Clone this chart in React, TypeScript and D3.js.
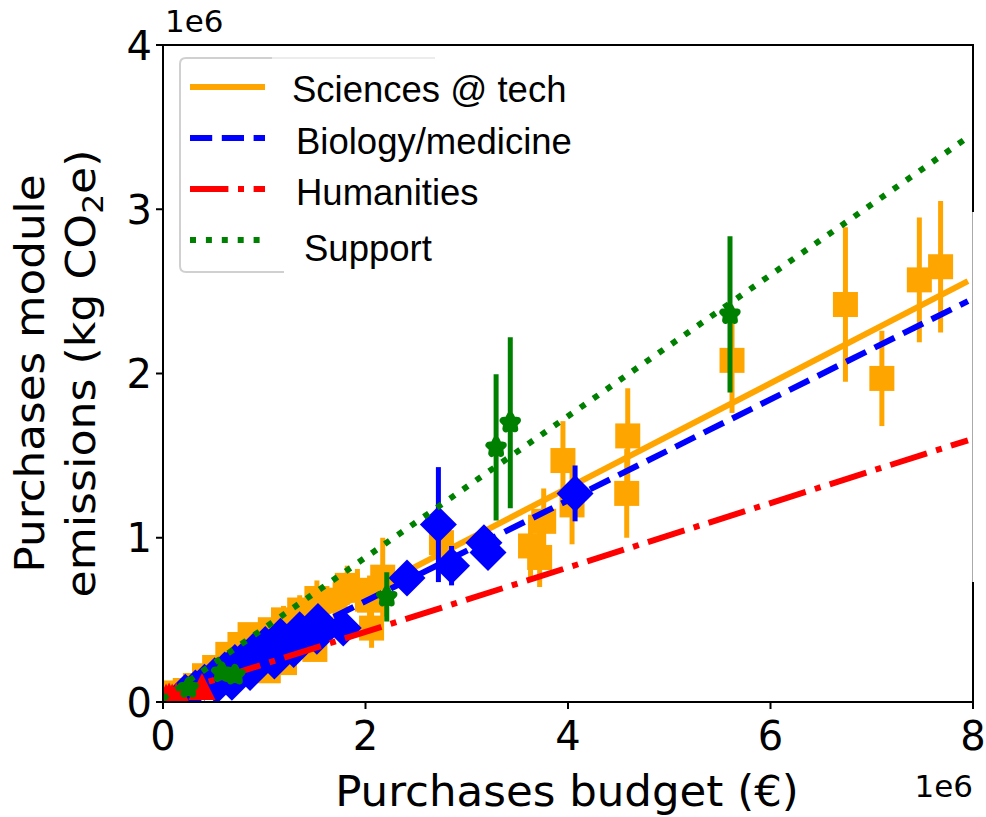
import React from 'react';
import * as d3 from 'd3';

// Values in units of 1e6
const categories = ['Sciences @ tech', 'Biology/medicine', 'Humanities', 'Support'];
const colors = ['orange', 'blue', 'red', 'green'];

const sciX = [5.62, 6.74, 7.10, 7.47, 7.68, 4.59, 4.58, 3.95, 4.04, 3.76, 3.63, 3.72, 2.75, 2.17, 2.06, 2.04, 1.92, 1.82, 1.70, 1.52, 1.50, 1.35, 1.20, 1.19, 1.04, 1.06, 0.86, 0.76, 0.64, 0.51, 0.41, 0.32, 0.22, 0.12, 0.05];
const sciY = [2.08, 2.42, 1.97, 2.57, 2.65, 1.62, 1.27, 1.47, 1.20, 1.10, 0.95, 0.88, 0.97, 0.76, 0.45, 0.62, 0.68, 0.71, 0.62, 0.63, 0.32, 0.56, 0.24, 0.50, 0.19, 0.44, 0.41, 0.35, 0.29, 0.21, 0.16, 0.10, 0.07, 0.055, 0.035];
const sciErr = [0.32, 0.47, 0.29, 0.38, 0.40, 0.29, 0.27, 0.24, 0.24, 0.20, 0.19, 0.18, 0.18, 0.24, 0.12, 0.15, 0.13, 0.12, 0.11, 0.11, 0.07, 0.09, 0.06, 0.085, 0.05, 0.07, 0.07, 0.06, 0.05, 0.04, 0.03, 0.025, 0.02, 0.015, 0.01];

const bioX = [2.72, 2.85, 3.17, 3.21, 4.07, 2.41, 1.78, 1.53, 1.52, 1.35, 1.29, 1.16, 1.10, 1.01, 0.91, 0.86, 0.81, 0.71, 0.68, 0.61, 0.53, 0.51, 0.41, 0.32, 0.22];
const bioY = [1.08, 0.83, 0.97, 0.91, 1.27, 0.755, 0.45, 0.49, 0.40, 0.44, 0.32, 0.40, 0.25, 0.35, 0.32, 0.18, 0.27, 0.24, 0.12, 0.195, 0.10, 0.16, 0.12, 0.085, 0.06];
const bioErr = [0.35, 0.12, 0.09, 0.09, 0.17, 0.06, 0.07, 0.07, 0.05, 0.06, 0.05, 0.06, 0.04, 0.05, 0.05, 0.03, 0.04, 0.035, 0.02, 0.03, 0.02, 0.025, 0.02, 0.015, 0.01];

const humX = [0.385, 0.03, 0.06, 0.09, 0.13, 0.17];
const humY = [0.094, 0.030, 0.036, 0.030, 0.036, 0.028];
const humErr = [0.01, 0.005, 0.005, 0.005, 0.005, 0.005];

const supX = [5.60, 3.29, 3.43, 2.21, 0.58, 0.71, 0.25];
const supY = [2.36, 1.55, 1.70, 0.64, 0.18, 0.165, 0.085];
const supErr = [0.475, 0.445, 0.52, 0.15, 0.03, 0.03, 0.02];

const fitSlopes = [0.3185, 0.307, 0.196, 0.43];
const fitIntercepts = [0.03, 0.0, 0.035, 0.02];
const fitXRange = [0, 7.95];

const xTicks = [0, 2, 4, 6, 8];
const yTicks = [0, 1, 2, 3, 4];

const W = 986, H = 817;
const L = 163, R = 973, T = 45, B = 702;

const x = d3.scaleLinear().domain([0, 8]).range([L, R]);
const y = d3.scaleLinear().domain([0, 4]).range([B, T]);

const LW = 6;
const dashes = ['none', `${3.7 * LW},${1.6 * LW}`, `${6.4 * LW},${1.6 * LW},${1 * LW},${1.6 * LW}`, `${1 * LW},${1.65 * LW}`];

const tickFont = 'DejaVu Sans, sans-serif';
const legFont = 'Liberation Sans, Arial, sans-serif';

function starPath(ro: number, ri: number) {
  const pts: [number, number][] = [];
  for (let i = 0; i < 10; i++) {
    const r = i % 2 === 0 ? ro : ri;
    const a = -Math.PI / 2 + (i * Math.PI) / 5;
    pts.push([r * Math.cos(a), r * Math.sin(a)]);
  }
  return 'M' + pts.map(p => p.join(',')).join('L') + 'Z';
}

function ErrBars({ xs, ys, es, color }: { xs: number[]; ys: number[]; es: number[]; color: string }) {
  return (
    <g>
      {xs.map((xv, i) => (
        <line key={i} x1={x(xv)} x2={x(xv)} y1={y(ys[i] - es[i])} y2={y(ys[i] + es[i])} stroke={color} strokeWidth={5} />
      ))}
    </g>
  );
}

function FitLine({ i }: { i: number }) {
  const line = d3.line<number>().x(d => x(d)).y(d => y(fitIntercepts[i] + fitSlopes[i] * d));
  return <path d={line(fitXRange) || ''} stroke={colors[i]} strokeWidth={LW} fill="none" strokeDasharray={dashes[i]} strokeLinecap="butt" />;
}

export default function App() {
  const sq = 12.5;
  const dm = 18.5;
  const th = 13.5;
  const star = starPath(7.5, 3.8);
  return (
    <svg width={W} height={H} style={{ position: 'absolute', left: 0, top: 0, background: 'white' }}>
      <defs>
        <clipPath id="plotclip">
          <rect x={L} y={T} width={R - L} height={B - T} />
        </clipPath>
      </defs>
      <g clipPath="url(#plotclip)">
        {/* Sciences */}
        <ErrBars xs={sciX} ys={sciY} es={sciErr} color={colors[0]} />
        {sciX.map((xv, i) => (
          <rect key={i} x={x(xv) - sq} y={y(sciY[i]) - sq} width={2 * sq} height={2 * sq} fill={colors[0]} />
        ))}
        <FitLine i={0} />
        {/* Biology */}
        <ErrBars xs={bioX} ys={bioY} es={bioErr} color={colors[1]} />
        {bioX.map((xv, i) => (
          <path key={i} transform={`translate(${x(xv)},${y(bioY[i])})`} d={`M0,${-dm}L${dm},0L0,${dm}L${-dm},0Z`} fill={colors[1]} />
        ))}
        <FitLine i={1} />
        {/* Humanities */}
        <ErrBars xs={humX} ys={humY} es={humErr} color={colors[2]} />
        {humX.map((xv, i) => (
          <path key={i} transform={`translate(${x(xv)},${y(humY[i])})`} d={`M0,${-th}L${th},${th}L${-th},${th}Z`} fill={colors[2]} />
        ))}
        <FitLine i={2} />
        {/* Support */}
        <ErrBars xs={supX} ys={supY} es={supErr} color={colors[3]} />
        {supX.map((xv, i) => (
          <path key={i} transform={`translate(${x(xv)},${y(supY[i])})`} d={star} fill={colors[3]} stroke={colors[3]} strokeWidth={7} strokeLinejoin="round" />
        ))}
        <FitLine i={3} />
      </g>

      {/* spines */}
      <line x1={L} x2={L} y1={T - 1} y2={B + 1} stroke="black" strokeWidth={2} />
      <line x1={L - 1} x2={R + 1} y1={B} y2={B} stroke="black" strokeWidth={2} />
      <line x1={L - 1} x2={R + 1} y1={T} y2={T} stroke="black" strokeWidth={2} />
      <line x1={R} x2={R} y1={T - 1} y2={212} stroke="black" strokeWidth={2} />
      <line x1={R - 0.5} x2={R - 0.5} y1={212} y2={582} stroke="#aaa" strokeWidth={1} />
      <line x1={R} x2={R} y1={582} y2={B + 1} stroke="black" strokeWidth={2} />

      {/* ticks */}
      {xTicks.map(t => (
        <g key={'x' + t}>
          <line x1={x(t)} x2={x(t)} y1={B} y2={B + 7} stroke="black" strokeWidth={2} />
          <text x={x(t)} y={750} textAnchor="middle" fontFamily={tickFont} fontSize={40}>{t}</text>
        </g>
      ))}
      {yTicks.map(t => (
        <g key={'y' + t}>
          <line x1={L - 7} x2={L} y1={y(t)} y2={y(t)} stroke="black" strokeWidth={2} />
          <text x={152} y={y(t) + 14.5} textAnchor="end" fontFamily={tickFont} fontSize={40}>{t}</text>
        </g>
      ))}
      <text x={165} y={32} fontFamily={tickFont} fontSize={31}>1e6</text>
      <text x={973} y={797} textAnchor="end" fontFamily={tickFont} fontSize={31}>1e6</text>

      {/* axis labels */}
      <text x={567} y={806} textAnchor="middle" fontFamily={tickFont} fontSize={43.5}>Purchases budget (€)</text>
      <text transform={`translate(44,${(T + B) / 2}) rotate(-90)`} textAnchor="middle" fontFamily={tickFont} fontSize={41} textLength={398} lengthAdjust="spacingAndGlyphs">Purchases module</text>
      <text transform={`translate(95,${(T + B) / 2}) rotate(-90)`} textAnchor="middle" fontFamily={tickFont} fontSize={41} textLength={448} lengthAdjust="spacingAndGlyphs">
        emissions (kg CO<tspan fontSize={29} dy={8}>2</tspan><tspan dy={-8}>e)</tspan>
      </text>

      {/* legend */}
      <path d="M272,58 H186 Q180,58 180,64 V266 Q180,272 186,272 H284" fill="none" stroke="#d0d0d0" strokeWidth={2} />
      <line x1={272} x2={435} y1={58} y2={58} stroke="#ececec" strokeWidth={2} />
      {categories.map((c, i) => {
        const ly = 87 + i * 51;
        const tx = [292, 296, 296, 304][i];
        const by = [102, 154, 205, 261][i];
        return (
          <g key={c}>
            <line x1={190} x2={265} y1={ly} y2={ly} stroke={colors[i]} strokeWidth={LW} strokeDasharray={dashes[i]} />
            <text x={tx} y={by} fontFamily={legFont} fontSize={36.5}>{c}</text>
          </g>
        );
      })}
    </svg>
  );
}
